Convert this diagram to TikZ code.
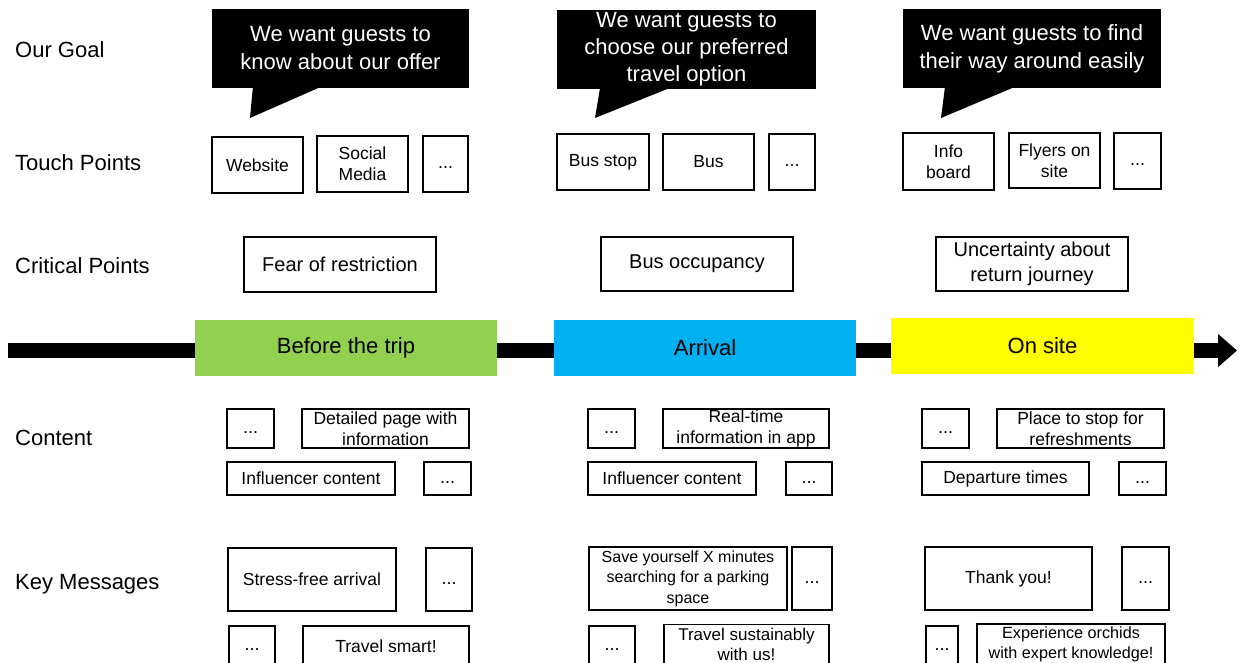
\documentclass[tikz,border=0pt]{standalone}
\usepackage{fontspec}
\setmainfont{Liberation Sans}
\usetikzlibrary{arrows.meta}
\definecolor{phasegreen}{RGB}{146,208,80}
\definecolor{phaseblue}{RGB}{0,176,240}
\definecolor{phaseyellow}{RGB}{255,255,0}
\tikzset{
  sz/.style 2 args={minimum width=#1pt,minimum height=#2pt},
  rowlabel/.style={anchor=west,inner sep=0pt,font=\fontsize{22}{26}\selectfont},
  goal/.style={fill=black,text=white,align=center,inner sep=0pt,font=\fontsize{22}{28}\selectfont},
  box/.style={draw,line width=1.6pt,fill=white,align=center,inner sep=0pt,font=\fontsize{17.5}{21}\selectfont},
  dotbox/.style={box,font=\fontsize{18}{24}\selectfont,execute at begin node=\strut},
  critbox/.style={box,font=\fontsize{20}{25}\selectfont},
  phase/.style={inner sep=0pt,font=\fontsize{22}{26}\selectfont}
}
\begin{document}
\begin{tikzpicture}[x=1pt,y=-1pt]
\useasboundingbox (0,0) rectangle (1241,663);
\node[rowlabel] (lgoal) at (15,50) {Our Goal};
\node[rowlabel] (ltouch) at (15,163) {Touch Points};
\node[rowlabel] (lcrit) at (15,266) {Critical Points};
\node[rowlabel] (lcont) at (15,438) {Content};
\node[rowlabel] (lkey) at (15,584) {Key Messages};

\node[goal,sz={257}{79}] (g1) at (340.5,48.5) {We want guests to\\know about our offer};
\node[goal,sz={259}{79},font=\fontsize{22}{27}\selectfont] (g2) at (686.5,49.5) {We want guests to\\choose our preferred\\travel option};
\node[goal,sz={258}{79}] (g3) at (1032,48.5) {We want guests to find\\their way around easily};
\fill ([xshift=41pt]g1.south west) -- ([xshift=106pt]g1.south west) -- (250,118) -- cycle;
\fill ([xshift=43pt]g2.south west) -- ([xshift=110pt]g2.south west) -- (595,118) -- cycle;
\fill ([xshift=42pt]g3.south west) -- ([xshift=109pt]g3.south west) -- (941,118) -- cycle;

\node[box,sz={91}{56}] (t11) at (257.5,165) {Website};
\node[box,sz={91}{56}] (t12) at (362.5,164) {Social\\Media};
\node[dotbox,sz={45}{56}] (t13) at (445.5,164) {...};
\node[box,sz={92}{56}] (t21) at (603,162) {Bus stop};
\node[box,sz={91}{56}] (t22) at (708.5,162) {Bus};
\node[dotbox,sz={46}{56}] (t23) at (792,162) {...};
\node[box,sz={91}{57}] (t31) at (948.5,161.5) {Info\\board};
\node[box,sz={91}{55}] (t32) at (1054.5,160.5) {Flyers on\\site};
\node[dotbox,sz={47}{56}] (t33) at (1137.5,161) {...};

\node[critbox,sz={192}{55}] (c1) at (340,264.5) {Fear of restriction};
\node[critbox,sz={192}{54}] (c2) at (697,264) {Bus occupancy};
\node[critbox,sz={192}{54}] (c3) at (1032,264) {Uncertainty about\\return journey};

\coordinate (tlstart) at (8,350.5);
\coordinate (tlend) at (1237,350.5);
\draw[line width=15pt,-{Triangle[width=32pt,length=19pt]}] (tlstart) -- (tlend);
\node[phase,fill=phasegreen,sz={302}{56}] (p1) at (346,348) {Before the trip};
\node[phase,fill=phaseblue,sz={302}{56}] (p2) at (705,348) {Arrival};
\node[phase,fill=phaseyellow,sz={303}{56}] (p3) at (1042.5,346) {On site};

\node[dotbox,sz={47}{39}] (n11) at (250.5,428.5) {...};
\node[box,sz={167}{39}] (n12) at (385.5,428.5) {Detailed page with\\information};
\node[box,sz={168}{33}] (n13) at (311,478.5) {Influencer content};
\node[dotbox,sz={47}{33}] (n14) at (447.5,478.5) {...};
\node[dotbox,sz={47}{39}] (n21) at (611.5,428.5) {...};
\node[box,sz={166}{39}] (n22) at (746,428.5) {Real-time\\information in app};
\node[box,sz={168}{33}] (n23) at (672,478.5) {Influencer content};
\node[dotbox,sz={46}{33}] (n24) at (809,478.5) {...};
\node[dotbox,sz={47}{39}] (n31) at (945.5,428.5) {...};
\node[box,sz={167}{39}] (n32) at (1080.5,428.5) {Place to stop for\\refreshments};
\node[box,sz={167}{33}] (n33) at (1005.5,478.5) {Departure times};
\node[dotbox,sz={47}{33}] (n34) at (1142.5,478.5) {...};

\node[box,sz={168}{63}] (k11) at (312,579.5) {Stress-free arrival};
\node[dotbox,sz={46}{63}] (k12) at (449,579.5) {...};
\node[dotbox,sz={46}{40}] (k13) at (252,646) {...};
\node[box,sz={166}{40}] (k14) at (386,646) {Travel smart!};
\node[box,sz={198}{63},font=\fontsize{16}{20.5}\selectfont] (k21) at (688,578.5) {Save yourself X minutes\\searching for a parking\\space};
\node[dotbox,sz={40}{63}] (k22) at (812,578.5) {...};
\node[dotbox,sz={46}{40}] (k23) at (612,646) {...};
\node[box,sz={165}{40},font=\fontsize{17}{20}\selectfont] (k24) at (746.5,644.5) {Travel sustainably\\with us!};
\node[box,sz={167}{63}] (k31) at (1008.5,578.5) {Thank you!};
\node[dotbox,sz={47}{63}] (k32) at (1145.5,578.5) {...};
\node[dotbox,sz={32}{40}] (k33) at (942,646) {...};
\node[box,sz={188}{41},font=\fontsize{16.2}{20}\selectfont] (k34) at (1071,644.5) {Experience orchids\\with expert knowledge!};
\end{tikzpicture}
\end{document}
